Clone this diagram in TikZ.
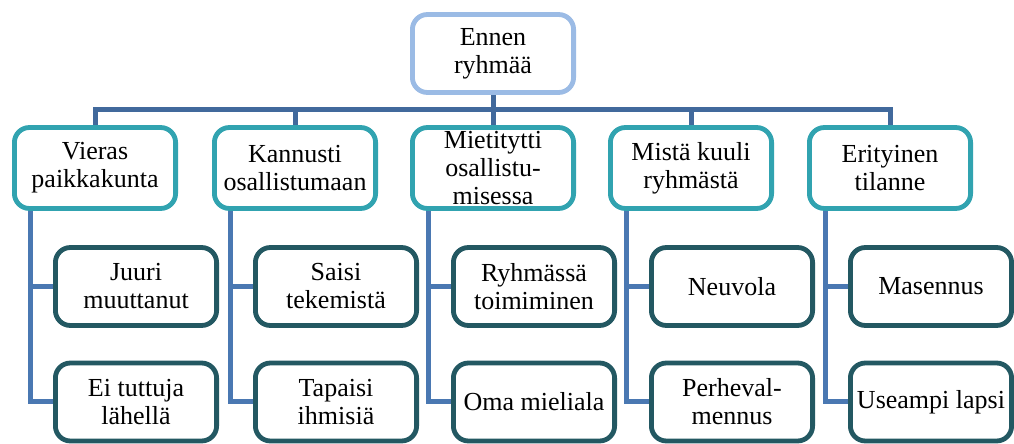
\documentclass[tikz,border=0pt]{standalone}
\usepackage{fontspec}
\setmainfont{Liberation Serif}
\usepackage{xcolor}
\usepackage{tikz}
\usetikzlibrary{calc,backgrounds,positioning}

\definecolor{rootblue}{HTML}{9BBBE5}
\definecolor{topicteal}{HTML}{31A3B0}
\definecolor{itemteal}{HTML}{235862}
\definecolor{busblue}{HTML}{41699C}
\definecolor{linkblue}{HTML}{4A78B2}

\begin{document}
\begin{tikzpicture}[x=0.5pt,y=-0.5pt]
    \tikzstyle{box}=[draw,line width=2.4pt,rounded corners=7.5pt,fill=white,
      align=center,minimum width=80.6pt,inner sep=1pt,
      font=\fontsize{13}{14}\selectfont]
    \tikzstyle{rootbox}=[box,draw=rootblue,minimum height=39pt]
    \tikzstyle{topicbox}=[box,draw=topicteal,minimum height=40.5pt]
    \tikzstyle{itembox}=[box,draw=itemteal,minimum height=39pt]
    \tikzstyle{bus}=[draw=busblue,line width=2.5pt]
    \tikzstyle{link}=[draw=linkblue,line width=2.5pt]

    \useasboundingbox (0,0) rectangle (1014,444);

    \node[rootbox] (root) at (493,53.5) {Ennen\\ryhmää};

    \node[topicbox, below of=root, node distance=57.25pt] (osal)
      {Mietitytti\\osallistu-\\misessa};
    \node[topicbox, left of=osal, node distance=99pt] (kann)
      {Kannusti\\osallistumaan};
    \node[topicbox, left of=kann, node distance=100pt] (vier)
      {Vieras\\paikkakunta};
    \node[topicbox, right of=osal, node distance=99pt] (mist)
      {Mistä kuuli\\ryhmästä};
    \node[topicbox, right of=mist, node distance=99.5pt] (erit)
      {Erityinen\\tilanne};

    \node[itembox, below of=vier, node distance=59.25pt, xshift=20.5pt] (juuri)
      {Juuri\\muuttanut};
    \node[itembox, below of=juuri, node distance=57.75pt] (tutt)
      {Ei tuttuja\\lähellä};
    \node[itembox, below of=kann, node distance=59.25pt, xshift=20.5pt] (teke)
      {Saisi\\tekemistä};
    \node[itembox, below of=teke, node distance=57.75pt] (ihmi)
      {Tapaisi\\ihmisiä};
    \node[itembox, below of=osal, node distance=59.25pt, xshift=20.5pt] (toim)
      {Ryhmässä\\toimiminen};
    \node[itembox, below of=toim, node distance=57.75pt] (miel)
      {Oma mieliala};
    \node[itembox, below of=mist, node distance=59.25pt, xshift=20.5pt] (neuv)
      {Neuvola};
    \node[itembox, below of=neuv, node distance=57.75pt] (perh)
      {Perheval-\\mennus};
    \node[itembox, below of=erit, node distance=59.25pt, xshift=20.5pt] (mase)
      {Masennus};
    \node[itembox, below of=mase, node distance=57.75pt] (lapsi)
      {Useampi lapsi};

    \coordinate (busy) at ($(root.south)!0.5!(osal.north)$);

    \begin{pgfonlayer}{background}
      \draw[bus] (root.south) -- (osal.north);
      \draw[bus] (vier.north) |- (busy) -| (erit.north);
      \draw[bus] (kann.north) |- (busy);
      \draw[bus] (mist.north) |- (busy);

      \draw[link] ([xshift=-32.5pt]vier.south) |- (tutt.west);
      \draw[link] ([xshift=-32.5pt]vier.south) |- (juuri.west);
      \draw[link] ([xshift=-32.5pt]kann.south) |- (ihmi.west);
      \draw[link] ([xshift=-32.5pt]kann.south) |- (teke.west);
      \draw[link] ([xshift=-32.5pt]osal.south) |- (miel.west);
      \draw[link] ([xshift=-32.5pt]osal.south) |- (toim.west);
      \draw[link] ([xshift=-32.5pt]mist.south) |- (perh.west);
      \draw[link] ([xshift=-32.5pt]mist.south) |- (neuv.west);
      \draw[link] ([xshift=-32.5pt]erit.south) |- (lapsi.west);
      \draw[link] ([xshift=-32.5pt]erit.south) |- (mase.west);
    \end{pgfonlayer}
  \end{tikzpicture}
\end{document}
